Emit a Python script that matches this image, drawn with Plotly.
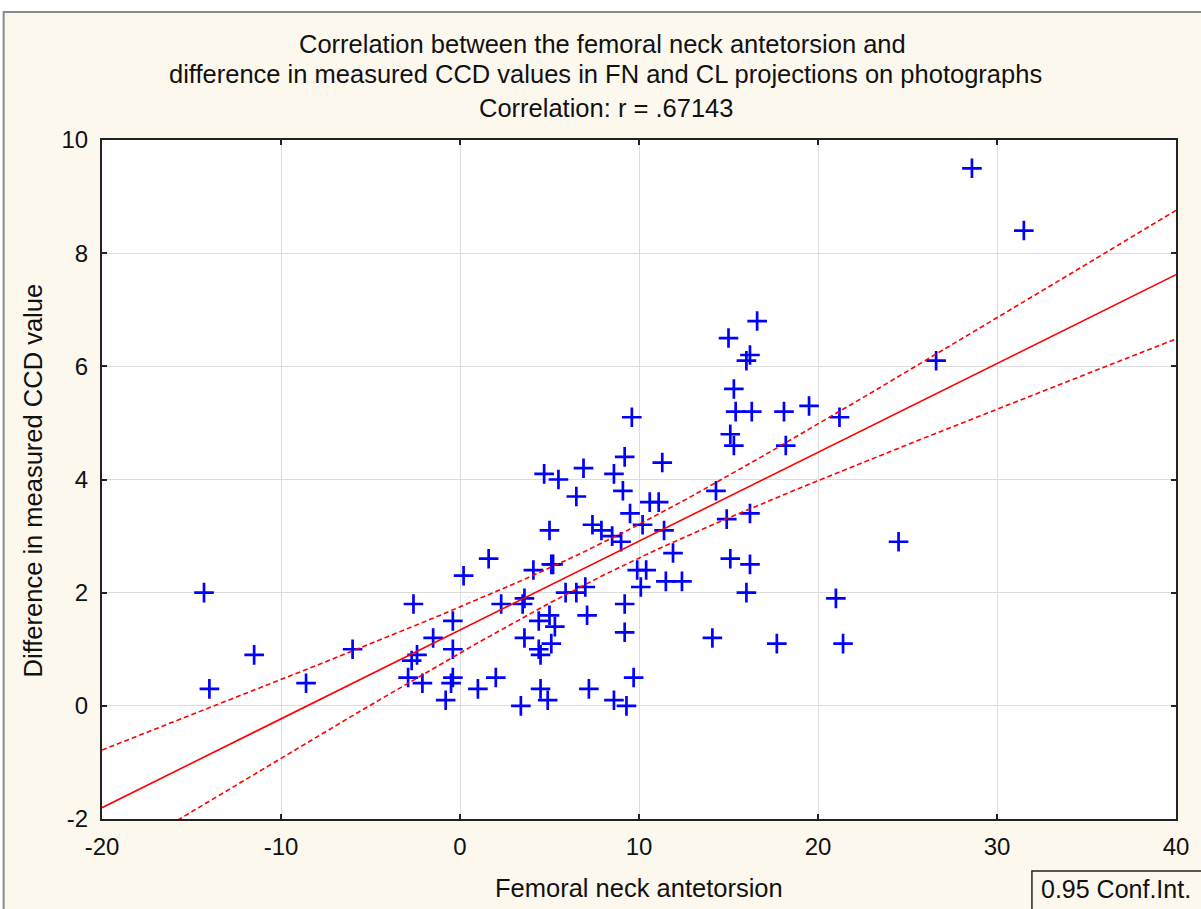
import numpy as np
import plotly.graph_objects as go

# Femoral neck antetorsion (deg) and difference in measured CCD value (deg)
antetorsion = [
    -14.3, -14.0, -11.5, -8.6, -6.0, -2.9, -2.7, -2.4, -2.6, -2.1, -1.5, -0.8,
    -0.4, -0.4, -0.4, -0.5, 0.2, 1.0,
    9.2, 11.3, 4.7, 5.5, 6.9, 8.6, 9.1, 6.5, 10.6, 11.1, 9.5, 7.4, 7.9, 8.5,
    9.0, 10.2, 11.4, 5.0, 11.9, 1.6, 4.1, 5.1, 5.2, 9.9, 10.4, 11.5, 10.1,
    5.9, 6.5, 7.0, 3.6, 3.5, 2.3, 9.2, 7.1, 9.2, 4.4, 5.0, 5.3, 3.6, 5.1,
    4.4, 4.5, 2.0, 4.5, 4.9, 3.4, 7.2, 9.7, 8.6, 9.3,
    16.6, 15.0, 16.2, 16.0, 15.3, 15.4, 16.3, 18.1, 19.5, 21.2, 9.6, 15.1,
    15.3, 18.2, 14.3, 16.2, 14.9, 12.4, 15.1, 16.2, 16.0, 21.0, 14.1, 17.7,
    21.4, 24.5, 26.6, 28.6, 31.5,
]
ccd_difference = [
    2.0, 0.3, 0.9, 0.4, 1.0, 0.5, 0.8, 0.9, 1.8, 0.4, 1.2, 0.1,
    1.5, 1.0, 0.5, 0.4, 2.3, 0.3,
    4.4, 4.3, 4.1, 4.0, 4.2, 4.1, 3.8, 3.7, 3.6, 3.6, 3.4, 3.2, 3.1, 3.0,
    2.9, 3.2, 3.1, 3.1, 2.7, 2.6, 2.4, 2.5, 2.5, 2.4, 2.4, 2.2, 2.1,
    2.0, 2.0, 2.1, 1.9, 1.8, 1.8, 1.8, 1.6, 1.3, 1.5, 1.6, 1.4, 1.2, 1.1,
    1.0, 0.9, 0.5, 0.3, 0.1, 0.0, 0.3, 0.5, 0.1, 0.0,
    6.8, 6.5, 6.2, 6.1, 5.6, 5.2, 5.2, 5.2, 5.3, 5.1, 5.1, 4.8,
    4.6, 4.6, 3.8, 3.4, 3.3, 2.2, 2.6, 2.5, 2.0, 1.9, 1.2, 1.1,
    1.1, 2.9, 6.1, 9.5, 8.4,
]

x_ticks = [-20, -10, 0, 10, 20, 30, 40]
y_ticks = [-2, 0, 2, 4, 6, 8, 10]
x_tick_text = ["-20", "-10", "0", "10", "20", "30", "40"]
y_tick_text = ["-2", "0", "2", "4", "6", "8", "10"]
reported_r = ".67143"
conf_level = 0.95

x = np.array(antetorsion, dtype=float)
y = np.array(ccd_difference, dtype=float)
n = len(x)

# least-squares line with confidence band for the mean response
slope, intercept = np.polyfit(x, y, 1)
resid = y - (intercept + slope * x)
s = np.sqrt(np.sum(resid ** 2) / (n - 2))
sxx = np.sum((x - x.mean()) ** 2)
t_crit = 1.985  # two-sided 95 % t quantile, df = n - 2
xf = np.linspace(x_ticks[0], x_ticks[-1], 241)
yf = intercept + slope * xf
half = t_crit * s * np.sqrt(1.0 / n + (xf - x.mean()) ** 2 / sxx)

# plot-area geometry in pixels (page is 1201 x 909)
W, H = 1201, 909
L, R, T, B = 102, 18, 140, 90
pw, ph = W - L - R, H - T - B


def px(xp):
    return (xp - L) / pw


def py(yp):
    return (H - B - yp) / ph


cream = "#fdf8ee"
ink = "#111111"
font_main = "Liberation Sans, Arial, sans-serif"
title_font = dict(family=font_main, size=25.5, color=ink)

fig = go.Figure()
fig.add_trace(go.Scatter(
    x=x, y=y, mode="markers",
    marker=dict(symbol="cross-thin", size=14, color="#0000ff",
                line=dict(color="#0000ff", width=2.7)),
    showlegend=False, hoverinfo="x+y",
))
fig.add_trace(go.Scatter(x=xf, y=yf, mode="lines",
                         line=dict(color="#ff0000", width=1.6),
                         showlegend=False))
for band in (yf + half, yf - half):
    fig.add_trace(go.Scatter(x=xf, y=band, mode="lines",
                             line=dict(color="#ff0000", width=1.6, dash="5px,3px"),
                             showlegend=False))

axis_common = dict(
    showgrid=True, gridcolor="#dcdcdc", gridwidth=1,
    zeroline=False, showline=True, linecolor="#222222", linewidth=2,
    mirror="ticks", ticks="inside", ticklen=5, tickwidth=2, tickcolor="#222222",
    tickfont=dict(family=font_main, size=24, color=ink),
)

fig.update_layout(
    width=W, height=H,
    margin=dict(l=L, r=R, t=T, b=B, pad=0),
    paper_bgcolor="white",
    plot_bgcolor="white",
    xaxis=dict(range=[x_ticks[0], x_ticks[-1]], tickvals=x_ticks,
               ticktext=x_tick_text, ticklabelstandoff=5, **axis_common),
    yaxis=dict(range=[y_ticks[0], y_ticks[-1]], tickvals=y_ticks,
               ticktext=y_tick_text, ticklabelstandoff=7, **axis_common),
    shapes=[
        dict(type="rect", xref="paper", yref="paper", layer="below",
             x0=px(3), x1=px(1215), y0=py(925), y1=py(12),
             fillcolor=cream, line=dict(color="#8a8a8a", width=2)),
        dict(type="rect", xref="paper", yref="paper", layer="below",
             x0=0, x1=1, y0=0, y1=1, fillcolor="white", line=dict(width=0)),
        dict(type="rect", xref="paper", yref="paper", layer="above",
             x0=px(1038), x1=px(1215), y0=py(925), y1=py(871),
             fillcolor="rgba(0,0,0,0)", line=dict(color="#222222", width=1.5)),
    ],
    annotations=[
        dict(text="Correlation between the femoral neck antetorsion and",
             xref="paper", yref="paper", x=px(606), y=py(44),
             xanchor="center", yanchor="middle",
             showarrow=False, font=title_font),
        dict(text="difference in measured CCD values in FN and CL projections on photographs",
             xref="paper", yref="paper", x=px(609), y=py(74),
             xanchor="center", yanchor="middle",
             showarrow=False, font=title_font),
        dict(text="Correlation: r = " + reported_r,
             xref="paper", yref="paper", x=px(609), y=py(108),
             xanchor="center", yanchor="middle",
             showarrow=False, font=title_font),
        dict(text="Femoral neck antetorsion",
             xref="paper", yref="paper", x=px(642), y=py(888),
             xanchor="center", yanchor="middle",
             showarrow=False, font=title_font),
        dict(text="Difference in measured CCD value",
             xref="paper", yref="paper", x=px(33), y=py(480), textangle=-90,
             xanchor="center", yanchor="middle",
             showarrow=False, font=title_font),
        dict(text="%.2f Conf.Int." % conf_level,
             xref="paper", yref="paper", x=px(1045), y=py(889),
             xanchor="left", yanchor="middle",
             showarrow=False, font=dict(family=font_main, size=25, color=ink)),
    ],
)

fig.write_html("out.html")
